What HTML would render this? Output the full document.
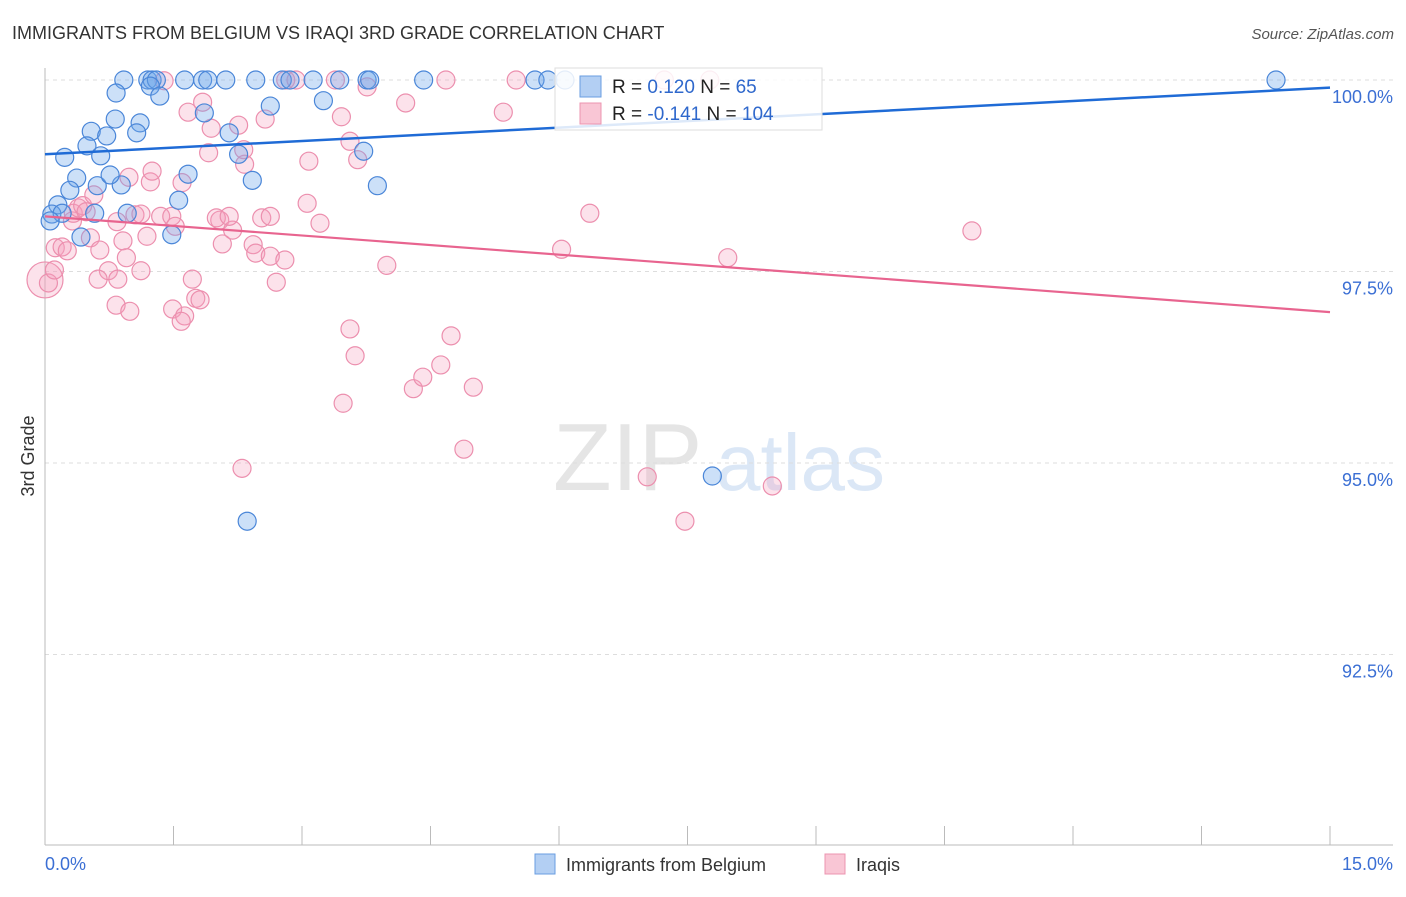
<!DOCTYPE html>
<html><head><meta charset="utf-8"><style>
body{margin:0;background:#fff;font-family:"Liberation Sans",sans-serif;}
svg text{font-family:"Liberation Sans",sans-serif;}
</style></head><body>
<svg id="chart" width="1406" height="892" xmlns="http://www.w3.org/2000/svg">
<text x="12" y="39" font-size="18" fill="#333">IMMIGRANTS FROM BELGIUM VS IRAQI 3RD GRADE CORRELATION CHART</text>
<text x="1394" y="39" font-size="15" fill="#555" text-anchor="end" font-style="italic">Source: ZipAtlas.com</text>
<g opacity="0.5"><text x="553" y="490" font-size="96" fill="#ccc" font-family="Liberation Serif,serif">ZIP</text><text x="716" y="490" font-size="80" fill="#b8d0ee">atlas</text></g>
<g id="grid"></g>
<line x1="45" y1="68" x2="45" y2="845" stroke="#bbb"/>
<line x1="45" y1="845" x2="1393" y2="845" stroke="#bbb"/>
<g id="xticks"></g>
<text transform="translate(34,456) rotate(-90)" font-size="18" fill="#333" text-anchor="middle">3rd Grade</text>
<text x="45" y="870" font-size="18" fill="#3b6fd4">0.0%</text>
<text x="1393" y="870" font-size="18" fill="#3b6fd4" text-anchor="end">15.0%</text>
<g id="pts"></g>
<g id="lines"></g>
<g>
<rect x="555" y="68" width="267" height="62" fill="#fff" fill-opacity="0.85" stroke="#ddd"/>
<rect x="580" y="76" width="21" height="21" fill="#b3cff3" stroke="#6a9de0"/>
<rect x="580" y="103" width="21" height="21" fill="#f9c6d5" stroke="#ec94b0"/>
<text x="612" y="93" font-size="19" fill="#222">R = <tspan fill="#2f68cc"> 0.120</tspan>   N = <tspan fill="#2f68cc">  65</tspan></text>
<text x="612" y="120" font-size="19" fill="#222">R = <tspan fill="#2f68cc">-0.141</tspan>   N = <tspan fill="#2f68cc">104</tspan></text>
</g>
<g>
<rect x="535" y="854" width="20" height="20" fill="#b3cff3" stroke="#6a9de0"/>
<text x="566" y="871" font-size="18" fill="#333">Immigrants from Belgium</text>
<rect x="825" y="854" width="20" height="20" fill="#f9c6d5" stroke="#ec94b0"/>
<text x="856" y="871" font-size="18" fill="#333">Iraqis</text>
</g>
</svg>
<script>
const yTicks=[100,97.5,95,92.5];
const yTickLabels=["100.0%","97.5%","95.0%","92.5%"];
const blueX=[0.92,1.20,1.25,1.30,1.63,1.84,1.90,2.11,2.46,2.77,2.86,3.13,3.44,3.76,3.79,4.42,5.72,5.87,6.07,14.37,0.83,1.23,1.34,2.63,3.25,1.86,0.82,1.11,1.07,0.54,0.72,2.15,0.49,0.23,0.65,2.26,3.72,1.67,2.42,0.37,0.29,0.61,0.89,0.76,3.88,1.56,0.15,0.08,0.20,0.06,0.58,0.96,0.42,1.48,2.36,7.79];
const blueY=[100,100,100,100,100,100,100,100,100,100,100,100,100,100,100,100,100,100,100,100,99.83,99.92,99.79,99.66,99.73,99.57,99.49,99.44,99.31,99.33,99.27,99.31,99.14,98.99,99.01,99.03,99.07,98.77,98.69,98.72,98.56,98.62,98.63,98.76,98.62,98.43,98.37,98.25,98.26,98.16,98.26,98.26,97.95,97.98,94.24,94.83];
const pinkX=[0.0,0.04,0.11,0.12,0.20,0.26,0.32,0.33,0.39,0.44,0.48,0.57,0.53,0.64,0.74,0.62,0.85,0.84,0.91,0.95,1.05,1.12,1.19,0.98,1.23,1.25,1.39,1.12,1.35,1.48,1.52,1.60,1.67,1.84,1.94,1.91,2.04,2.00,2.07,2.19,2.15,2.33,2.32,2.43,2.46,2.53,2.63,2.80,2.70,1.72,1.76,1.81,1.49,1.63,1.59,0.83,0.99,2.63,2.26,2.57,3.06,3.21,3.08,3.56,3.65,3.46,2.81,2.93,3.39,3.76,4.21,4.68,5.35,5.50,6.36,6.03,7.97,10.82,3.99,3.56,3.62,3.48,4.30,4.41,4.62,4.74,5.00,4.89,2.30,7.03,7.47,8.49,7.23,7.76];
const pinkY=[97.39,97.35,97.52,97.81,97.82,97.77,98.16,98.26,98.33,98.36,98.28,98.50,97.94,97.78,97.51,97.40,97.40,98.15,97.90,97.68,98.24,97.51,97.96,98.73,98.67,98.81,99.99,98.25,98.22,98.22,98.09,98.66,99.58,99.71,99.37,99.05,98.17,98.20,97.86,98.04,98.22,98.90,99.09,97.85,97.74,98.20,97.70,97.65,97.36,97.40,97.15,97.13,97.01,96.92,96.85,97.06,96.98,98.22,99.41,99.49,98.39,98.13,98.94,99.20,98.96,99.52,100,100,100,99.91,99.70,100,99.58,100,98.26,97.79,97.68,98.03,97.58,96.75,96.40,95.78,95.97,96.12,96.28,96.66,95.99,95.18,94.93,94.82,94.24,94.70,100,100];
const blueTrend=[99.03,99.90];
const pinkTrend=[98.22,96.97];
const NS="http://www.w3.org/2000/svg";
function sx(v){return 45+v/15*1285;}
function sy(v){return 80+(100-v)/2.5*191.5;}
function mk(t,a,p){const e=document.createElementNS(NS,t);for(const k in a)e.setAttribute(k,a[k]);p.appendChild(e);return e;}
const grid=document.getElementById('grid');
yTicks.forEach((t,i)=>{
 const l=mk('line',{x1:45,x2:1393,y1:sy(t),y2:sy(t),stroke:'#ddd','stroke-dasharray':'4,4'},grid);
 
 
 const tx=mk('text',{x:1393,y:sy(t)+23,'font-size':18,fill:'#3b6fd4','text-anchor':'end'},grid);
 tx.textContent=yTickLabels[i];
 
 
});
const xt=document.getElementById('xticks');
for(let i=0;i<=10;i++){
 const l=mk('line',{x1:sx(i*1.5),x2:sx(i*1.5),y1:826,y2:845,stroke:'#bbb'},xt);
 
 
}
const pts=document.getElementById('pts');
pinkX.forEach((x,i)=>{
 const c=mk('circle',{cx:sx(x),cy:sy(pinkY[i]),r:i==0?18:9,fill:'rgba(244,160,188,0.3)',stroke:'#ec8fae','stroke-width':1.2},pts);
 
 
});
blueX.forEach((x,i)=>{
 const c=mk('circle',{cx:sx(x),cy:sy(blueY[i]),r:9,fill:'rgba(110,165,235,0.35)',stroke:'#4a86d8','stroke-width':1.2},pts);
 
 
});
const ln=document.getElementById('lines');
const b=mk('line',{x1:sx(0),y1:sy(blueTrend[0]),x2:sx(15),y2:sy(blueTrend[1]),stroke:'#1f6bd6','stroke-width':2.5},ln);


const p=mk('line',{x1:sx(0),y1:sy(pinkTrend[0]),x2:sx(15),y2:sy(pinkTrend[1]),stroke:'#e8648f','stroke-width':2.2},ln);


</script>
</body></html>
